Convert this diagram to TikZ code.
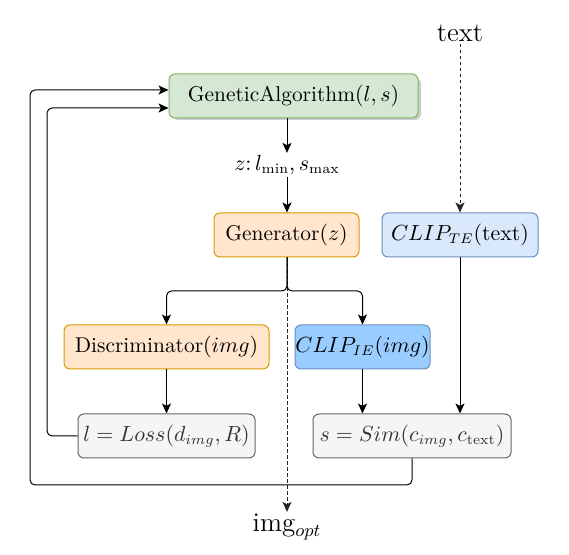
\documentclass[tikz,border=0pt]{standalone}
\usetikzlibrary{arrows.meta}
\definecolor{gafill}{HTML}{D5E8D4}\definecolor{gadraw}{HTML}{82B366}
\definecolor{ofill}{HTML}{FFE6CC}\definecolor{odraw}{HTML}{D79B00}
\definecolor{bfill}{HTML}{DAE8FC}\definecolor{bdraw}{HTML}{6C8EBF}
\definecolor{b2fill}{HTML}{99CCFF}
\definecolor{gfill}{HTML}{F5F5F5}\definecolor{gdraw}{HTML}{666666}\definecolor{gtext}{HTML}{333333}
\begin{document}
\begin{tikzpicture}[x=0.5pt,y=-0.5pt,
  box/.style={rectangle,rounded corners=3pt,line width=0.5pt,minimum height=22pt,inner sep=0pt,font=\fontsize{10.7}{12}\selectfont},
  gabox/.style={box,fill=gafill,draw=gadraw},
  obox/.style={box,fill=ofill,draw=odraw},
  bbox/.style={box,fill=bfill,draw=bdraw},
  b2box/.style={box,fill=b2fill,draw=bdraw},
  gbox/.style={box,fill=gfill,draw=gdraw,text=gtext},
  lbl/.style={inner sep=1pt,font=\fontsize{10.7}{12}\selectfont},
  biglbl/.style={inner sep=1pt,font=\fontsize{13.5}{15}\selectfont},
  arr/.style={line width=0.5pt,-{Stealth[length=5pt,width=4.5pt,inset=1.2pt]},rounded corners=2.5pt},
  darr/.style={arr,dashed,dash pattern=on 1.6pt off 1.4pt,draw=black!85}]
\useasboundingbox (0,0) rectangle (569,555);
% shadow
\fill[black,opacity=0.2,rounded corners=3pt] (172,78) rectangle (421,120);
\node[gabox,minimum width=124.5pt] (ga) at (293.5,96) {GeneticAlgorithm$(l, s)$};
\node[lbl] (zl) at (287,165) {$z\colon l_{\min}, s_{\max}$};
\node[obox,minimum width=72.5pt] (gen) at (286.5,235) {Generator$(z)$};
\node[bbox,minimum width=78pt] (clipte) at (460,235) {$CLIP_{TE}(\mathrm{text})$};
\node[biglbl] (txt) at (460,33) {text};
\node[obox,minimum width=102.5pt] (disc) at (166.5,347) {Discriminator$(img)$};
\node[b2box,minimum width=67.5pt] (clipie) at (362.5,347) {$CLIP_{IE}(img)$};
\node[gbox,minimum width=88.5pt] (loss) at (166.5,436) {$l = Loss(d_{img}, R)$};
\node[gbox,minimum width=99pt] (sim) at (412,436) {$s = Sim(c_{img}, c_{\mathrm{text}})$};
\node[biglbl] (img) at (287,527) {img$_{opt}$};
\coordinate (ga1) at (30,90);
\coordinate (ga2) at (47,108);
\coordinate (split) at (287,291);
\coordinate (bot) at (30,485);
% connectors
\draw[arr] (ga.south -| zl) -- (zl.north);
\draw[arr] (zl.south) -- (gen.north -| zl);
\draw[darr] (txt.south) -- (clipte.north);
\draw[darr] (gen.south -| img) -- (img.north);
\draw[arr] (gen.south -| split) -- (split) -| (disc.north);
\draw[arr] (gen.south -| split) -- (split) -| (clipie.north);
\draw[arr] (disc.south) -- (loss.north);
\draw[arr] (clipie.south) -- (sim.north -| clipie);
\draw[arr] (clipte.south) -- (sim.north -| clipte);
\draw[arr] (loss.west) -| (ga2) -- (ga2 -| ga.west);
\draw[arr] (sim.south) |- (bot) -- (ga1) -- (ga1 -| ga.west);
\end{tikzpicture}
\end{document}
